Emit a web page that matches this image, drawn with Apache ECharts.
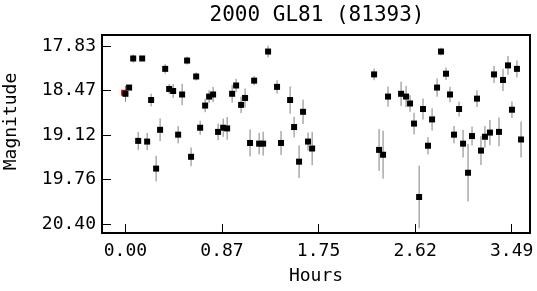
<!DOCTYPE html>
<html>
<head>
<meta charset="utf-8">
<script src="https://cdn.jsdelivr.net/npm/echarts@6/dist/echarts.min.js"></script>
<style>
  html, body { margin: 0; padding: 0; background: #fff; }
  #main { width: 537px; height: 291px; }
</style>
</head>
<body>
<div id="main"></div>
<script>
  // 观测数据（小时, 星等, 误差）
  var hours = [0.000, 0.033, 0.070, 0.151, 0.115, 0.196, 0.232, 0.277, 0.313, 0.359,
    0.395, 0.431, 0.476, 0.512, 0.557, 0.593, 0.639, 0.675, 0.720, 0.756,
    0.792, 0.837, 0.883, 0.919, 0.964, 1.000, 1.045, 1.081, 1.126, 1.163,
    1.208, 1.244, 1.289, 1.370, 1.406, 1.488, 1.524, 1.569, 1.605, 1.650,
    1.687,
    2.247, 2.292, 2.328, 2.373, 2.491, 2.536, 2.572, 2.608, 2.654, 2.689,
    2.734, 2.771, 2.816, 2.852, 2.897, 2.933, 2.969, 3.015, 3.051, 3.096,
    3.132, 3.177, 3.213, 3.249, 3.294, 3.331, 3.376, 3.412, 3.457, 3.493,
    3.538, 3.575];
  var mags = [18.52, 18.43, 18.01, 18.01, 19.20, 19.21, 18.61, 19.60, 19.04, 18.16,
    18.45, 18.48, 19.11, 18.53, 18.04, 19.43, 18.27, 19.01, 18.69, 18.56,
    18.53, 19.07, 19.01, 19.02, 18.52, 18.40, 18.68, 18.58, 19.23, 18.33,
    19.24, 19.24, 17.91, 18.42, 19.23, 18.61, 19.00, 19.50, 18.78, 19.21,
    19.31,
    18.24, 19.33, 19.40, 18.56, 18.52, 18.56, 18.66, 18.95, 20.01, 18.74,
    19.27, 18.89, 18.43, 17.91, 18.23, 18.53, 19.11, 18.74, 19.24, 19.66,
    19.13, 18.59, 19.34, 19.14, 19.08, 18.24, 19.07, 18.32, 18.11, 18.75,
    18.16, 19.18];
  var errs = [0.115, 0.03, 0.06, 0.03, 0.13, 0.125, 0.091, 0.185, 0.164, 0.067,
    0.072, 0.099, 0.125, 0.154, 0.058, 0.135, 0.058, 0.101, 0.096, 0.091,
    0.111, 0.12, 0.132, 0.164, 0.128, 0.096, 0.12, 0.137, 0.195, 0.065,
    0.156, 0.173, 0.084, 0.096, 0.173, 0.197, 0.149, 0.236, 0.176, 0.13,
    0.241,
    0.084, 0.303, 0.347, 0.144, 0.176, 0.154, 0.12, 0.156, 0.452, 0.152,
    0.125, 0.161, 0.132, 0.055, 0.089, 0.111, 0.125, 0.108, 0.2, 0.416,
    0.137, 0.12, 0.209, 0.156, 0.183, 0.125, 0.209, 0.161, 0.137, 0.12,
    0.123, 0.26];
  // 参考点（红色，被第一个点挡住大半）
  var refHours = [-0.012];
  var refMags = [18.505];

  var xTicks = [0, 0.8725, 1.745, 2.6175, 3.49];
  var xTickLabels = ['0.00', '0.87', '1.75', '2.62', '3.49'];
  var yTicks = [17.83, 18.4725, 19.115, 19.7575, 20.40];
  var yTickLabels = ['17.83', '18.47', '19.12', '19.76', '20.40'];

  var points = hours.map(function (h, i) { return [h, mags[i], errs[i]]; });
  var refPoints = refHours.map(function (h, i) { return [h, refMags[i]]; });

  function findLabel(ticks, labels, v) {
    for (var i = 0; i < ticks.length; i++) {
      if (Math.abs(ticks[i] - v) < 1e-6) return labels[i];
    }
    return '';
  }

  var font = 'DejaVu Sans Mono';
  var myChart = echarts.init(document.getElementById('main'));
  myChart.setOption({
    animation: false,
    title: {
      text: '2000 GL81 (81393)',
      left: 312,
      top: 0,
      textAlign: 'center',
      textStyle: { fontFamily: font, fontSize: 21, fontWeight: 'normal', color: '#000' }
    },
    grid: { left: 102, right: 7, top: 35, bottom: 58, outerBoundsMode: 'none', containLabel: false },
    xAxis: {
      type: 'value',
      min: -0.212,
      max: 3.656,
      name: 'Hours',
      nameLocation: 'middle',
      nameGap: 34,
      nameTextStyle: { fontFamily: font, fontSize: 18, color: '#000' },
      axisLine: { show: true, onZero: false, lineStyle: { color: '#000', width: 2 } },
      axisTick: { show: true, inside: true, length: 9, customValues: xTicks, lineStyle: { color: '#000', width: 1 } },
      axisLabel: {
        customValues: xTicks,
        margin: 9,
        fontFamily: font, fontSize: 18, color: '#000',
        formatter: function (v) { return findLabel(xTicks, xTickLabels, v); }
      },
      splitLine: { show: false }
    },
    yAxis: {
      type: 'value',
      inverse: true,
      min: 17.671,
      max: 20.53,
      name: 'Magnitude',
      nameLocation: 'middle',
      nameGap: 82,
      nameTextStyle: { fontFamily: font, fontSize: 18, color: '#000', padding: [0, 0, 0, 25] },
      axisLine: { show: true, onZero: false, lineStyle: { color: '#000', width: 2 } },
      axisTick: { show: true, inside: true, length: 9, customValues: yTicks, lineStyle: { color: '#000', width: 1 } },
      axisLabel: {
        customValues: yTicks,
        margin: 6,
        fontFamily: font, fontSize: 18, color: '#000',
        formatter: function (v) { return findLabel(yTicks, yTickLabels, v); }
      },
      splitLine: { show: false }
    },
    series: [
      {
        // 边框（上、右）用一个 custom series 画
        type: 'custom',
        silent: true,
        data: [[0]],
        renderItem: function (params, api) {
          var c = params.coordSys;
          return {
            type: 'rect',
            shape: { x: c.x, y: c.y, width: c.width, height: c.height },
            style: { fill: 'none', stroke: '#000', lineWidth: 2 }
          };
        },
        z: 1
      },
      {
        type: 'custom',
        name: 'err',
        data: points,
        renderItem: function (params, api) {
          var x = api.value(0), y = api.value(1), e = api.value(2);
          var p1 = api.coord([x, y - e]);
          var p2 = api.coord([x, y + e]);
          return {
            type: 'line',
            shape: { x1: p1[0], y1: p1[1], x2: p2[0], y2: p2[1] },
            style: { stroke: '#808080', lineWidth: 1 }
          };
        },
        z: 2
      },
      {
        type: 'scatter',
        name: 'ref',
        data: refPoints,
        symbol: 'rect',
        symbolSize: 6,
        itemStyle: { color: '#e00000', opacity: 1 },
        z: 3
      },
      {
        type: 'scatter',
        name: 'mag',
        data: points,
        symbol: 'rect',
        symbolSize: 6,
        itemStyle: { color: '#000', opacity: 1 },
        z: 4
      }
    ]
  });
</script>
</body>
</html>
